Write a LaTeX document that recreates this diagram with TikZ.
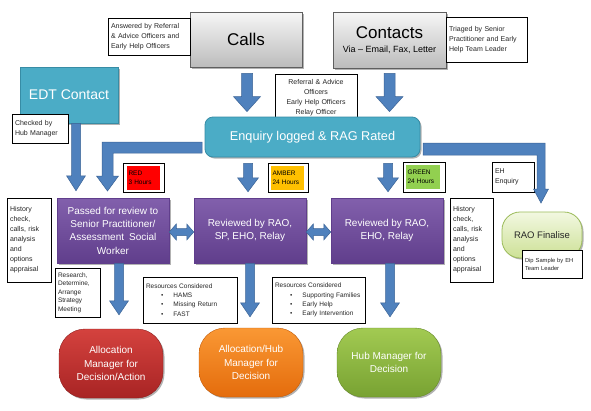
\documentclass[tikz,border=0pt]{standalone}
\usepackage{fontspec}
\setmainfont{Liberation Sans}
\usetikzlibrary{calc,shadows}
\definecolor{arrowblue}{RGB}{79,129,189}
\definecolor{arrowedge}{RGB}{60,100,150}
\definecolor{tealbox}{RGB}{75,172,198}
\definecolor{tealedge}{RGB}{55,140,165}
\definecolor{purptop}{RGB}{130,96,172}
\definecolor{purpbot}{RGB}{96,62,140}
\definecolor{redtop}{RGB}{212,66,62}
\definecolor{redbot}{RGB}{168,36,36}
\definecolor{orgtop}{RGB}{250,152,52}
\definecolor{orgbot}{RGB}{228,108,12}
\definecolor{grntop}{RGB}{162,202,82}
\definecolor{grnbot}{RGB}{120,162,50}
\definecolor{ltgrntop}{RGB}{242,248,225}
\definecolor{ltgrnbot}{RGB}{205,225,150}
\definecolor{ltgrnedge}{RGB}{155,187,89}
\definecolor{graytop}{RGB}{246,246,246}
\definecolor{graybot}{RGB}{188,188,188}
\definecolor{grayedge}{RGB}{95,95,95}
\definecolor{ragred}{RGB}{255,0,0}
\definecolor{ragamber}{RGB}{255,192,0}
\definecolor{raggreen}{RGB}{146,208,80}

% block arrow pointing down: #1 start, #2 tip, #3 body half width, #4 head half width, #5 head length
\newcommand{\blockdown}[5]{\path[blockarrow] let \p1=#1, \p2=#2 in
  ({\x1-#3pt},\y1) -- ({\x1+#3pt},\y1) -- ({\x1+#3pt},{\y2+#5pt}) -- ({\x1+#4pt},{\y2+#5pt})
  -- (\x1,\y2) -- ({\x1-#4pt},{\y2+#5pt}) -- ({\x1-#3pt},{\y2+#5pt}) -- cycle;}
% horizontal double block arrow between two points
\newcommand{\blockboth}[2]{\path[blockarrow] let \p1=#1, \p2=#2 in
  (\x1,\y1) -- ({\x1+7pt},{\y1+8pt}) -- ({\x1+7pt},{\y1+3.5pt}) -- ({\x2-7pt},{\y1+3.5pt})
  -- ({\x2-7pt},{\y1+8pt}) -- (\x2,\y1) -- ({\x2-7pt},{\y1-8pt}) -- ({\x2-7pt},{\y1-3.5pt})
  -- ({\x1+7pt},{\y1-3.5pt}) -- ({\x1+7pt},{\y1-8pt}) -- cycle;}

\begin{document}
\begin{tikzpicture}[x=1pt,y=-1pt,
  shad/.style={drop shadow={shadow xshift=1.5pt,shadow yshift=-1.5pt,opacity=0.3,fill=black}},
  note/.style={draw=black, line width=0.6pt, fill=white, align=left, inner sep=3pt,
    font=\fontsize{7}{10}\selectfont, text=black!85},
  grayb/.style={draw=grayedge, line width=0.8pt, top color=graytop, bottom color=graybot, shad, align=center, text=black},
  tealb/.style={draw=tealedge, line width=0.8pt, fill=tealbox, text=white, shad, align=center},
  purpb/.style={draw=purpbot, line width=0.5pt, top color=purptop, bottom color=purpbot, text=white,
    align=center, font=\fontsize{10}{13.3}\selectfont, minimum width=112pt, minimum height=65pt, shad},
  pill/.style={rounded corners=26pt, text=white, align=center, font=\fontsize{10}{13.5}\selectfont,
    minimum width=104pt, minimum height=69pt, shad, line width=0.4pt},
  ragbox/.style={draw=black, line width=0.6pt, fill=white, minimum width=41pt, minimum height=29pt, inner sep=0pt},
  ragfill/.style={align=left, font=\fontsize{6.5}{9}\selectfont, inner sep=1.5pt, text=black,
    text width=30pt, minimum height=24pt},
  blockarrow/.style={fill=arrowblue, draw=arrowedge, line width=0.5pt}
]
\fill[white] (0,0) rectangle (591,410);
\useasboundingbox (0,0) rectangle (591,410);

% top row
\node[grayb, minimum width=112pt, minimum height=55pt, font=\fontsize{17}{20}\selectfont] (calls) at (246,39.5) {Calls};
\node[grayb, minimum width=113pt, minimum height=56pt, font=\fontsize{9}{11}\selectfont] (contacts) at (389.5,40)
  {{\fontsize{17}{20}\selectfont Contacts}\\[3pt]Via – Email, Fax, Letter};
\node[note, text width=76pt, minimum height=37pt] (answered) at (149,36.5)
  {Answered by Referral\\\& Advice Officers and\\Early Help Officers};
\node[note, text width=75pt, minimum height=45pt] (triaged) at (486.5,39.5)
  {Triaged by Senior\\Practitioner and Early\\Help Team Leader};

% EDT
\node[tealb, minimum width=98pt, minimum height=56pt, font=\fontsize{14}{16}\selectfont] (edt) at (69,95) {EDT Contact};
\node[note, text width=50pt, minimum height=29pt] (checked) at (40,128.5) {Checked by\\Hub Manager};

\node[note, align=center, text width=76pt, minimum height=48pt] (referral) at (316,98)
  {Referral \& Advice\\Officers\\Early Help Officers\\Relay Officer};

% enquiry
\node[tealb, rounded corners=8pt, minimum width=215pt, minimum height=40pt, font=\fontsize{12.7}{15}\selectfont]
  (enquiry) at (312.5,137) {Enquiry logged \& RAG Rated};

% RAG labels
\node[ragbox] (redlbl) at (143.5,177.5) {};
\node[ragfill, fill=ragred] (redtxt) at (143.5,178) {RED\\3 Hours};
\node[ragbox, minimum width=40pt] (amberlbl) at (288,177.5) {};
\node[ragfill, fill=ragamber] (ambertxt) at (287.5,178) {AMBER\\24 Hours};
\node[ragbox, minimum width=42pt, minimum height=30pt] (greenlbl) at (424,177) {};
\node[ragfill, fill=raggreen, text width=31pt] (greentxt) at (423,177) {GREEN\\24 Hours};
\node[note, text width=36pt, minimum height=30pt] (eh) at (513,177) {EH\\Enquiry};

% purple review boxes
\node[purpb] (passed) at (113,230.5) {Passed for review to\\Senior Practitioner/\\Assessment\enspace Social\\Worker};
\node[purpb] (rev1) at (250,230.5) {Reviewed by RAO,\\SP, EHO, Relay};
\node[purpb] (rev2) at (387,230.5) {Reviewed by RAO,\\EHO, Relay};

\node[note, text width=38pt, minimum height=84pt] (histl) at (29,240)
  {History\\check,\\calls, risk\\analysis\\and\\options\\appraisal};
\node[note, text width=37pt, minimum height=84pt] (histr) at (471.5,240)
  {History\\check,\\calls, risk\\analysis\\and\\options\\appraisal};

% RAO finalise
\node[draw=ltgrnedge, line width=0.8pt, top color=ltgrntop, bottom color=ltgrnbot, rounded corners=18pt,
  minimum width=80pt, minimum height=46pt, font=\fontsize{9.5}{12}\selectfont, text=black!85, shad]
  (rao) at (542,235) {RAO Finalise};
\node[note, text width=54pt, minimum height=28pt, font=\fontsize{5.8}{8}\selectfont] (dip) at (552,264)
  {Dip Sample by EH\\Team Leader};

% lower notes
\node[note, text width=39pt, minimum height=49pt, font=\fontsize{6.5}{8.5}\selectfont] (research) at (77.5,292.5)
  {Research,\\Determine,\\Arrange\\Strategy\\Meeting};
\node[note, text width=88pt, minimum height=46pt, font=\fontsize{6.5}{9.2}\selectfont] (res1) at (190,300)
  {Resources Considered\\
   \hspace*{15pt}\makebox[12.5pt][l]{\textbullet}HAMS\\
   \hspace*{15pt}\makebox[12.5pt][l]{\textbullet}Missing Return\\
   \hspace*{15pt}\makebox[12.5pt][l]{\textbullet}FAST};
\node[note, text width=87pt, minimum height=46pt, font=\fontsize{6.5}{9.2}\selectfont] (res2) at (318.5,300)
  {Resources Considered\\
   \hspace*{15pt}\makebox[12.5pt][l]{\textbullet}Supporting Families\\
   \hspace*{15pt}\makebox[12.5pt][l]{\textbullet}Early Help\\
   \hspace*{15pt}\makebox[12.5pt][l]{\textbullet}Early Intervention};

% pills
\node[pill, top color=redtop, bottom color=redbot, draw=redbot!85!black] (alloc) at (111,363.5)
  {Allocation\\Manager for\\Decision/Action};
\node[pill, top color=orgtop, bottom color=orgbot, draw=orgbot!85!black] (allochub) at (251,362.5)
  {Allocation/Hub\\Manager for\\Decision};
\node[pill, top color=grntop, bottom color=grnbot, draw=grnbot!85!black] (hub) at (389,362.5)
  {Hub Manager for\\Decision};

% block arrows
\blockdown{($(calls.south)+(1,6)$)}{($(enquiry.north)+(0,-5)$)}{5.5}{13.5}{15}
\blockdown{($(contacts.south)+(0,5)$)}{($(enquiry.north)+(0,-5)$)}{5.5}{13.5}{15}
\blockdown{($(edt.south)+(7,0)$)}{($(passed.north)+(0,-7)$)}{4.5}{9.5}{15}
\blockdown{($(rev1.north |- enquiry.south)+(-2,6)$)}{($(rev1.north)+(0,-6)$)}{4.5}{10.5}{14}
\blockdown{($(rev2.north |- enquiry.south)+(1,6)$)}{($(rev2.north)+(0,-6)$)}{4.5}{10.5}{14}
\blockdown{($(passed.south)+(6,0)$)}{($(alloc.north)+(0,-14)$)}{4.5}{9.5}{14}
\blockdown{($(rev1.south)+(0,0)$)}{($(allochub.north)+(0,-11)$)}{4.5}{9.5}{14}
\blockdown{($(rev2.south)+(3,0)$)}{($(hub.north)+(0,-11)$)}{4.5}{9.5}{14}

% elbow arrows from enquiry
\path[blockarrow] (202,142) -- (102,142) -- (102,176) -- (96.5,176) -- (107.5,191) -- (118.5,176)
  -- (113,176) -- (113,153) -- (202,153) -- cycle;
\path[blockarrow] (423,143) -- (545,143) -- (545,189) -- (548.5,189) -- (541,203) -- (533.5,189)
  -- (537,189) -- (537,155) -- (423,155) -- cycle;

% double arrows
\blockboth{($(passed.east)+(0,1.5)$)}{(rev1.west)}
\blockboth{($(rev1.east)+(0,1.5)$)}{(rev2.west)}
\end{tikzpicture}
\end{document}
